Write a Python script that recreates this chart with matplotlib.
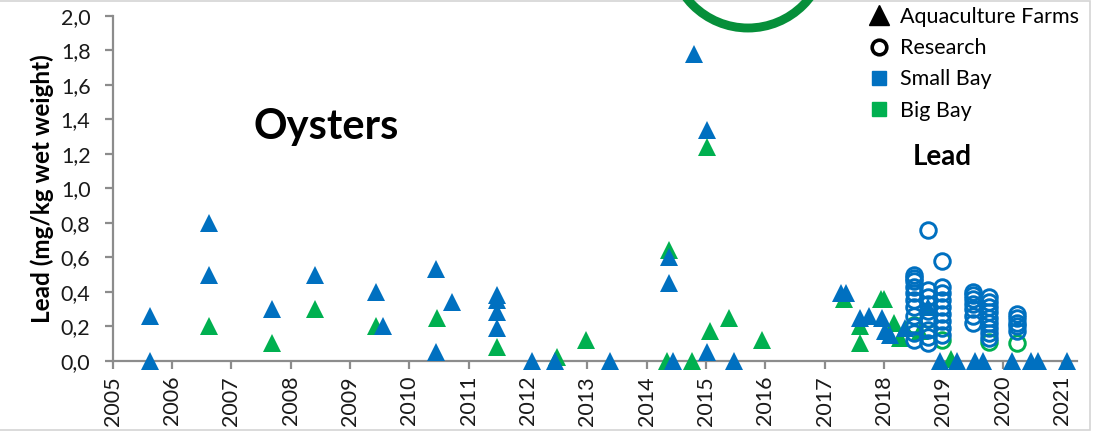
import matplotlib
matplotlib.use("Agg")
import matplotlib.pyplot as plt
from matplotlib.lines import Line2D
from matplotlib.patches import Circle, Rectangle
from matplotlib.transforms import IdentityTransform
from matplotlib.ticker import FuncFormatter, MultipleLocator

plt.rcParams['font.family'] = ['Lato', 'DejaVu Sans']

# ---- data (decimal year, lead mg/kg wet weight) ----
farm_small_x = [2005.63, 2005.63, 2006.63, 2006.63, 2007.68, 2008.41, 2009.43, 2009.55,
                2010.44, 2010.44, 2010.71, 2011.47, 2011.47, 2011.47, 2011.47, 2012.07,
                2012.45, 2013.38, 2014.38, 2014.38, 2014.45, 2014.79, 2015.02, 2015.01,
                2015.47, 2017.27, 2017.36, 2017.60, 2017.75, 2017.96, 2018.02, 2018.10,
                2018.35, 2018.74, 2018.94, 2019.22, 2019.53, 2019.67, 2020.16, 2020.48,
                2020.60, 2021.08]
farm_small_y = [0.26, 0.00, 0.80, 0.50, 0.30, 0.50, 0.40, 0.20,
                0.53, 0.05, 0.34, 0.38, 0.35, 0.28, 0.19, 0.00,
                0.00, 0.00, 0.60, 0.45, 0.00, 1.78, 1.34, 0.05,
                0.00, 0.39, 0.39, 0.25, 0.26, 0.25, 0.17, 0.15,
                0.19, 0.31, 0.00, 0.00, 0.00, 0.00, 0.00, 0.00,
                0.00, 0.00]

farm_big_x = [2006.63, 2007.68, 2008.41, 2009.43, 2010.47, 2011.47, 2012.48, 2012.98,
              2014.38, 2014.34, 2014.76, 2015.02, 2015.06, 2015.39, 2015.94, 2017.33,
              2017.94, 2018.00, 2017.60, 2017.60, 2018.16, 2018.27, 2018.61, 2019.12]
farm_big_y = [0.20, 0.10, 0.30, 0.20, 0.25, 0.08, 0.02, 0.12,
              0.64, 0.00, 0.00, 1.24, 0.17, 0.25, 0.12, 0.36,
              0.36, 0.36, 0.20, 0.10, 0.22, 0.13, 0.17, 0.01]

research_small_x = ([2018.50] * 11 + [2018.74] * 9 + [2018.98] * 9 +
                    [2019.50] * 7 + [2019.76] * 9 + [2020.24] * 5)
research_small_y = [0.50, 0.48, 0.46, 0.43, 0.39, 0.35, 0.31, 0.26, 0.20, 0.16, 0.12,
                    0.76, 0.41, 0.37, 0.33, 0.29, 0.24, 0.18, 0.14, 0.10,
                    0.58, 0.43, 0.39, 0.35, 0.31, 0.27, 0.23, 0.19, 0.15,
                    0.40, 0.38, 0.36, 0.33, 0.30, 0.26, 0.22,
                    0.37, 0.34, 0.31, 0.28, 0.25, 0.22, 0.19, 0.16, 0.13,
                    0.27, 0.25, 0.22, 0.20, 0.17]

research_big_x = [2018.50, 2018.74, 2018.98, 2019.76, 2020.24]
research_big_y = [0.21, 0.24, 0.12, 0.11, 0.10]

year_ticks = list(range(2005, 2022))
legend_labels = ["Aquaculture Farms", "Research", "Small Bay", "Big Bay"]

BLUE = '#0070C0'
GREEN = '#00B050'
W, H = 1101, 432

fig = plt.figure(figsize=(W / 100, H / 100), dpi=100)
ax = fig.add_axes([112.7 / W, 1 - 360.7 / H, (1077 - 112.7) / W, (360.7 - 16) / H])

tri = dict(marker='^', linestyle='none', markersize=12.4, markeredgewidth=0, clip_on=False)
ax.plot(farm_big_x, farm_big_y, color=GREEN, **tri, zorder=3)
ax.plot(farm_small_x, farm_small_y, color=BLUE, **tri, zorder=4)
circ = dict(marker='o', linestyle='none', markersize=11.2, markerfacecolor='none',
            markeredgewidth=2.1, clip_on=False)
ax.plot(research_big_x, research_big_y, markeredgecolor=GREEN, **circ, zorder=5)
ax.plot(research_small_x, research_small_y, markeredgecolor=BLUE, **circ, zorder=6)

ax.set_xlim(2005, 2021.25)
ax.set_ylim(0, 2.0)
ax.set_xticks(year_ticks)
ax.set_xticklabels([str(y) for y in year_ticks], rotation=90)
ax.yaxis.set_major_locator(MultipleLocator(0.2))
ax.yaxis.set_major_formatter(FuncFormatter(lambda v, p: f"{v:.1f}".replace('.', ',')))

for s in ['top', 'right']:
    ax.spines[s].set_visible(False)
for s in ['left', 'bottom']:
    ax.spines[s].set_color('#8c8c8c')
    ax.spines[s].set_linewidth(1.6)
    ax.spines[s].set_zorder(1)
ax.tick_params(axis='both', colors='#8c8c8c', width=1.6, length=6, labelcolor='#1a1a1a',
               labelsize=15.5)
ax.tick_params(axis='x', pad=5)
ax.tick_params(axis='y', pad=10)
ax.set_ylabel("Lead (mg/kg wet weight)", fontsize=17.5, fontweight='bold', labelpad=5)

ax.text((326 - 112.7) / (1077 - 112.7), (360.7 - 127) / (360.7 - 16), "Oysters",
        transform=ax.transAxes, fontsize=30, fontweight='bold', ha='center', va='center')
fig.text(942 / W, 1 - 157 / H, "Lead", fontsize=20, fontweight='bold', ha='center', va='center')

# legend
handles = [
    Line2D([], [], marker='^', color='black', linestyle='none', markersize=14.5),
    Line2D([], [], marker='o', markerfacecolor='none', markeredgecolor='black',
           markeredgewidth=2.6, linestyle='none', markersize=10.5),
    Line2D([], [], marker='s', color=BLUE, linestyle='none', markersize=9.5),
    Line2D([], [], marker='s', color=GREEN, linestyle='none', markersize=9.5),
]
leg = fig.legend(handles, legend_labels, loc='upper left',
                 bbox_to_anchor=(868 / W, 1 - 7 / H), frameon=False, fontsize=15.5,
                 borderpad=0, handlelength=1.0, handletextpad=0.5, labelspacing=0.52,
                 borderaxespad=0)

# outer frame and stray ring
fig.add_artist(Rectangle((-10, 2), 1090 + 10, 429, transform=IdentityTransform(),
                         fill=False, edgecolor='#d4d4d4', linewidth=1.2))
fig.add_artist(Circle((748, H + 50), 78, transform=IdentityTransform(), fill=False,
                      edgecolor='#068f3a', linewidth=6.4))

fig.savefig("out.png", dpi=100)
